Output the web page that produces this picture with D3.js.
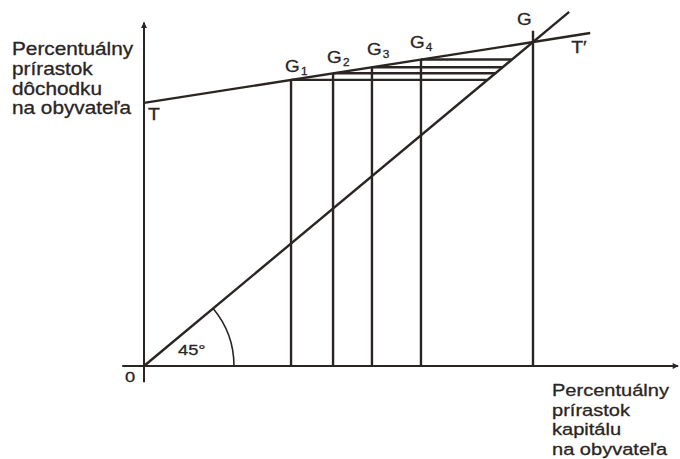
<!DOCTYPE html>
<html>
<head>
<meta charset="utf-8">
<script src="https://cdn.jsdelivr.net/npm/d3@7"></script>
<style>
  body { margin: 0; background: #fff; }
  svg { display: block; }
  text { font-family: "Liberation Sans", Arial, sans-serif; fill: #2a2523; stroke: #2a2523; stroke-width: 0.3; }
</style>
</head>
<body>
<div id="content"></div>
<script>
// model values (x = capital growth, y = income growth, both in %)
const gX = [3.78, 4.86, 5.86, 7.12];      // G1..G4 positions on the x axis
const gSub = ["1", "2", "3", "4"];
const gEq = 10;                            // equilibrium G (T line meets 45° line)
const tStart = 8.12;                       // T line value at x = 0
const tEndX = 11.47;                       // where T' ends
const diagEndX = 10.93;                    // end of 45° line
const xAxisExt = [-0.56, 13.73];
const yAxisExt = [-0.5, 10.6];
const gTopY = 10.35;                       // top of vertical at G
const yLabel = ["Percentuálny", "prírastok", "dôchodku", "na obyvateľa"];
const xLabel = ["Percentuálny", "prírastok", "kapitálu", "na obyvateľa"];

// label nudges (layout only)
const gLabelDx = [-6, -6, -5, -11];
const gLabelDy = [-8, -10, -12, -12];

const W = 680, H = 459;
const ink = "#2a2523";

const svg = d3.select("#content").append("svg")
  .attr("width", W).attr("height", H);

const x = d3.scaleLinear().domain([0, 10]).range([144, 533]);
const y = d3.scaleLinear().domain([0, 10]).range([366, 42]);

const tLine = v => tStart + (gEq - tStart) / gEq * v;
const line = d3.line().x(d => x(d[0])).y(d => y(d[1]));

svg.append("defs").append("marker")
  .attr("id", "arr").attr("viewBox", "0 0 10 10")
  .attr("refX", 9).attr("refY", 5)
  .attr("markerWidth", 10).attr("markerHeight", 6)
  .attr("markerUnits", "userSpaceOnUse")
  .attr("orient", "auto")
  .append("path").attr("d", "M0,0 L10,5 L0,10 Z").attr("fill", ink);

const g = svg.append("g")
  .attr("fill", "none").attr("stroke", ink).attr("stroke-width", 2.4);

// axes
g.append("path").attr("d", line([[xAxisExt[0], 0], [xAxisExt[1], 0]]))
  .attr("marker-end", "url(#arr)").attr("stroke-width", 2);
g.append("path").attr("d", line([[0, yAxisExt[0]], [0, yAxisExt[1]]]))
  .attr("marker-end", "url(#arr)").attr("stroke-width", 2);

// 45° line and T-T' line
g.append("path").attr("d", line([[0, 0], [diagEndX, diagEndX]]));
g.append("path").attr("d", line([[0, tStart], [tEndX, tLine(tEndX)]]));

// verticals
gX.forEach(v => {
  g.append("path").attr("d", line([[v, 0], [v, tLine(v)]]));
});
g.append("path").attr("d", line([[gEq, 0], [gEq, gTopY]]));

// horizontals from each G_i to the 45° line
gX.forEach(v => {
  const h = tLine(v);
  g.append("path").attr("d", line([[v, h], [h, h]]));
});

// 45° arc
const ang = Math.atan2(y(0) - y(diagEndX), x(diagEndX) - x(0));
const r = 90;
const p = d3.path();
p.arc(x(0), y(0), r, 0, -ang, true);
g.append("path").attr("d", p.toString()).attr("stroke-width", 1.6);

// text helper with horizontal stretch
const sx = 1.18;
function label(px, py, str, size) {
  return svg.append("text")
    .attr("transform", `translate(${px},${py}) scale(${sx},1)`)
    .attr("font-size", size)
    .text(str);
}

yLabel.forEach((s, i) => label(12, 55 + i * 19.8, s, 17.6));
xLabel.forEach((s, i) => label(552, 396 + i * 19.6, s, 17));

label(x(0) + 4, y(tStart) + 17, "T", 16.5);
label(x(tEndX) - 19, y(tLine(tEndX)) + 20, "T\u2032", 16.5);
label(x(gEq) - 16, y(gEq) - 17, "G", 16);
label(x(0) - 19, y(0) + 16, "0", 15.5);
label(x(0) + 34, y(0) - 11, "45°", 15.5);

gX.forEach((v, i) => {
  const t = label(x(v) + gLabelDx[i], y(tLine(v)) + gLabelDy[i], "G", 16);
  t.append("tspan").attr("font-size", 10).attr("dy", 3).attr("dx", 1).text(gSub[i]);
});
</script>
</body>
</html>
